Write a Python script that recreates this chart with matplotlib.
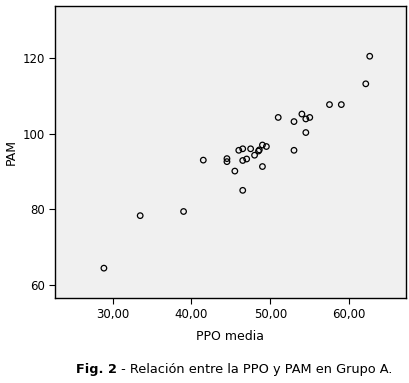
import matplotlib
matplotlib.use("Agg")
import matplotlib.pyplot as plt

ppo = [28.9, 33.5, 39.0, 41.5, 44.5, 44.5, 45.5, 46.0, 46.5, 46.5, 46.5, 47.0, 47.5,
       48.0, 48.5, 48.6, 49.0, 49.5, 49.0, 51.0, 53.0, 53.0, 54.0, 54.5, 55.0, 54.5,
       57.5, 59.0, 62.1, 62.6]
pam = [64.4, 78.3, 79.4, 93.0, 93.4, 92.6, 90.1, 95.6, 96.0, 92.9, 85.0, 93.3, 96.0,
       94.3, 95.4, 95.7, 97.0, 96.6, 91.3, 104.3, 103.2, 95.6, 105.2, 103.9, 104.3, 100.3,
       107.7, 107.7, 113.2, 120.5]
xticks = [30, 40, 50, 60]
xticklabels = ["30,00", "40,00", "50,00", "60,00"]
yticks = [60, 80, 100, 120]

plt.rcParams['font.family'] = ['DejaVu Sans']
fig = plt.figure(figsize=(4.09, 3.83), dpi=100)
ax = fig.add_axes([55/409, 1-298/383, 351/409, 292/383])
ax.set_facecolor('#f0f0f0')
ax.scatter(ppo, pam, s=16, facecolors='none', edgecolors='black', linewidths=0.9)
ax.set_xlim(22.7, 67.2)
ax.set_ylim(56.5, 133.8)
ax.set_xticks(xticks)
ax.set_xticklabels(xticklabels)
ax.set_yticks(yticks)
ax.tick_params(axis='both', direction='out', length=4, width=0.8, labelsize=8.5, colors='black', pad=3)
for s in ax.spines.values():
    s.set_linewidth(1.0)
    s.set_color('black')
ax.set_xlabel("PPO media", fontsize=9, labelpad=7)
ax.set_ylabel("PAM", fontsize=9, labelpad=4)

t1 = fig.text(76/409, 1-370/383, "Fig. 2", fontsize=9.3, fontweight='bold', va='center', ha='left')
ax.annotate(" - Relación entre la PPO y PAM en Grupo A.", xy=(1, 0.5), xycoords=t1,
            va='center', ha='left', fontsize=9.3)
fig.savefig("out.png", dpi=100)
